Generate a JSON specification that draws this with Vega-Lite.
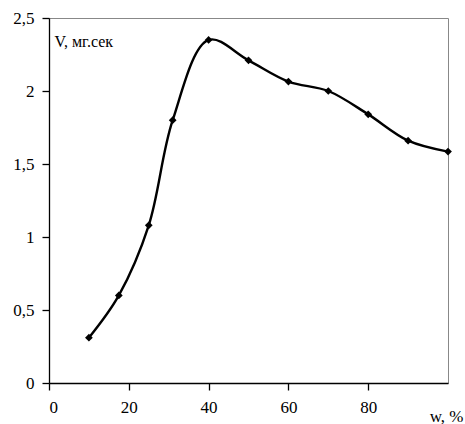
{
  "$schema": "https://vega.github.io/schema/vega-lite/v6.json",
  "width": 399,
  "height": 365,
  "autosize": "none",
  "padding": {"left": 49, "top": 18, "right": 17, "bottom": 41},
  "background": "white",
  "config": {
    "view": {"stroke": "#888888", "strokeWidth": 1}
  },
  "data": {
    "values": [
      {"w": 10, "V": 0.31},
      {"w": 17.5, "V": 0.6},
      {"w": 25, "V": 1.08},
      {"w": 31, "V": 1.8},
      {"w": 40, "V": 2.35},
      {"w": 50, "V": 2.21},
      {"w": 60, "V": 2.065},
      {"w": 70, "V": 2.0},
      {"w": 80, "V": 1.84},
      {"w": 90, "V": 1.66},
      {"w": 100, "V": 1.585}
    ]
  },
  "encoding": {
    "x": {
      "field": "w",
      "type": "quantitative",
      "scale": {"domain": [0, 100], "nice": false},
      "axis": {
        "values": [0, 20, 40, 60, 80],
        "grid": false,
        "domainColor": "black",
        "domainWidth": 1.3,
        "tickColor": "black",
        "tickSize": 7,
        "tickWidth": 1.3,
        "labelFont": "Liberation Serif",
        "labelFontSize": 17,
        "labelColor": "black",
        "labelPadding": 9,
        "title": "w, %",
        "titleFont": "Liberation Serif",
        "titleFontSize": 17,
        "titleFontWeight": "normal",
        "titleColor": "black",
        "titleAlign": "right",
        "titleBaseline": "alphabetic",
        "titleX": 414,
        "titleY": 38
      }
    },
    "y": {
      "field": "V",
      "type": "quantitative",
      "scale": {"domain": [0, 2.5], "nice": false},
      "axis": {
        "values": [0, 0.5, 1, 1.5, 2, 2.5],
        "labelExpr": "replace(format(datum.value, '~g'), '.', ',')",
        "grid": false,
        "domainColor": "black",
        "domainWidth": 1.3,
        "tickColor": "black",
        "tickSize": 7,
        "tickWidth": 1.3,
        "labelFont": "Liberation Serif",
        "labelFontSize": 17,
        "labelColor": "black",
        "labelPadding": 8,
        "title": "V, мг.сек",
        "titleFont": "Liberation Serif",
        "titleFontSize": 16,
        "titleFontWeight": "normal",
        "titleColor": "black",
        "titleAngle": 0,
        "titleAlign": "left",
        "titleBaseline": "alphabetic",
        "titleX": 5,
        "titleY": 28
      }
    }
  },
  "layer": [
    {
      "mark": {"type": "line", "interpolate": "catmull-rom", "color": "black", "strokeWidth": 2.4}
    },
    {
      "mark": {"type": "point", "shape": "diamond", "filled": true, "color": "black", "size": 60, "opacity": 1}
    }
  ]
}
